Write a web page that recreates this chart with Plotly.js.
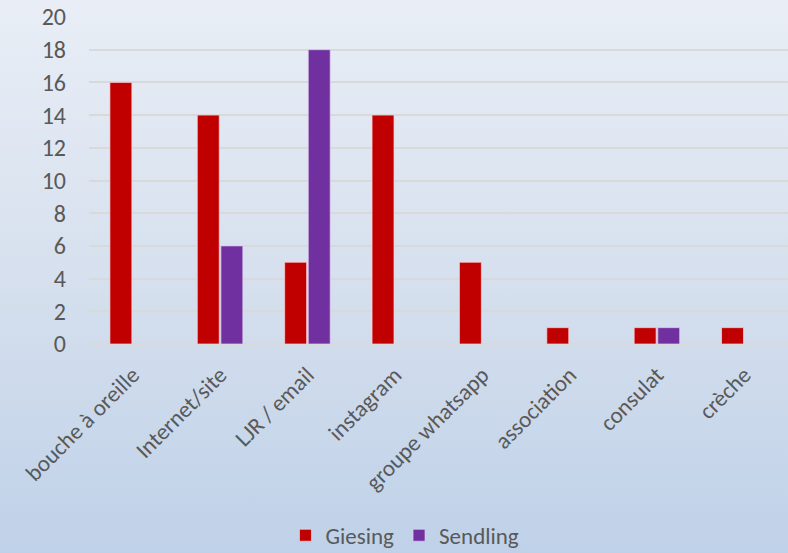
<!DOCTYPE html>
<html><head><meta charset="utf-8">
<script src="https://cdn.plot.ly/plotly-3.0.1.min.js"></script>
<style>
html,body{margin:0;padding:0;}
body{width:788px;height:553px;background:linear-gradient(to bottom,#E9EEF6 0%,#D6E0EE 50%,#BFD1E8 100%);}
#chart{width:788px;height:553px;}
</style></head>
<body><div id="chart"></div>
<script>
const categories = ["bouche à oreille","Internet/site","LJR / email","instagram","groupe whatsapp","association","consulat","crèche"];
const giesing = [16,14,5,14,5,1,1,1];
const sendling = [0,6,18,0,0,0,1,0];
const yTicks = [0,2,4,6,8,10,12,14,16,18,20];

const fam = "Carlito, 'Open Sans', 'Liberation Sans', sans-serif";
const traces = [
  {type:"bar", name:"Giesing", x:categories, y:giesing,
   marker:{color:"#C00000", line:{color:"rgba(255,210,215,0.7)", width:1}}},
  {type:"bar", name:"Sendling", x:categories, y:sendling,
   marker:{color:"#7030A0", line:{color:"rgba(225,210,240,0.7)", width:1}}}
];
const layout = {
  width:788, height:553,
  margin:{l:89, r:0, t:17, b:209, autoexpand:false},
  paper_bgcolor:"rgba(0,0,0,0)", plot_bgcolor:"rgba(0,0,0,0)",
  barmode:"group", bargap:0.46, bargroupgap:0.07,
  font:{family:fam, color:"#595959"},
  xaxis:{automargin:false, tickangle:-45, tickfont:{size:23, family:fam, color:"#595959"}, showgrid:false, showline:false, ticks:"", ticklen:0, ticklabelstandoff:12},
  yaxis:{automargin:false, range:[0,20], tickvals:yTicks, tickfont:{size:24, family:fam, color:"#595959"},
         gridcolor:"#D9D9D9", gridwidth:1.5, zeroline:true, zerolinecolor:"#D9D9D9", zerolinewidth:1.5, ticks:"", ticklabelstandoff:22},
  showlegend:true,
  legend:{orientation:"h", x:0.452, xanchor:"center", y:-0.585, yanchor:"middle", font:{size:23, family:fam, color:"#595959"}, itemwidth:30, bgcolor:"rgba(0,0,0,0)"}
};
Plotly.newPlot("chart", traces, layout, {displayModeBar:false});
</script></body></html>
